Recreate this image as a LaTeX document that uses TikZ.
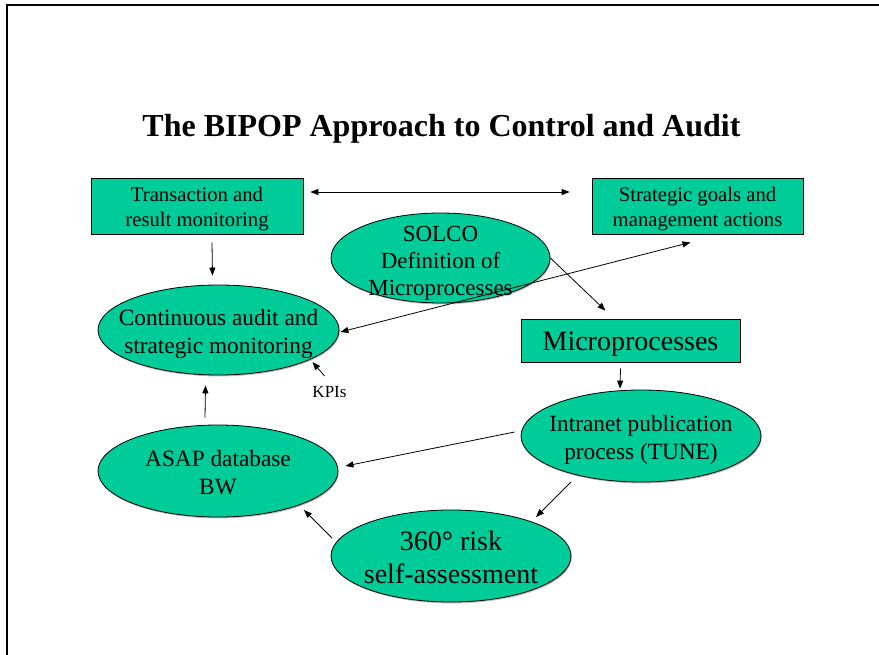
\documentclass[tikz,border=0pt]{standalone}
\usepackage{fontspec}
\setmainfont{Liberation Serif}
\usetikzlibrary{arrows.meta,shapes.geometric,calc,shadows}
\definecolor{bipopgreen}{RGB}{0,204,153}
\begin{document}
\begin{tikzpicture}[x=1pt,y=-1pt,
  softshadow/.style={drop shadow={shadow xshift=0.8pt,shadow yshift=-1.4pt,fill=black!45,opacity=0.55}},
  box/.style={rectangle,draw=black,line width=0.8pt,fill=bipopgreen,inner sep=0pt,softshadow},
  oval/.style={ellipse,draw=black,line width=0.8pt,fill=bipopgreen,inner sep=0pt,softshadow},
  ovaltext/.style={inner sep=0pt,align=center,font=\fontsize{23.3}{28}\selectfont},
  boxtext/.style={inner sep=0pt,align=center,font=\fontsize{20.7}{25}\selectfont},
  bigtext/.style={inner sep=0pt,font=\fontsize{28}{33}\selectfont},
  tip/.style={-{Triangle[length=8pt,width=6pt]},line width=0.8pt},
  twotips/.style={{Triangle[length=8pt,width=6pt]}-{Triangle[length=8pt,width=6pt]},line width=0.8pt}]

\useasboundingbox (0,0) rectangle (879,655);
\fill[white] (0,0) rectangle (879,655);
% slide frame
\draw[line width=2pt] (6.5,655) -- (6.5,5.5) -- (879,5.5);

% title
\node[anchor=base,inner sep=0pt,font=\fontsize{32}{38}\selectfont\bfseries] (title) at (441.5,137)
  {The BIPOP Approach to Control and Audit};

% boxes (frame first, text placed on its centre)
\node[box,minimum width=212,minimum height=56] (trans) at (197,206) {};
\node[boxtext] at ($(trans.center)+(0,3)$) {Transaction and\\result monitoring};
\node[box,minimum width=211,minimum height=56] (strat) at (697.5,206) {};
\node[boxtext] at ($(strat.center)+(0,3)$) {Strategic goals and\\management actions};
\node[box,minimum width=219,minimum height=43] (micro) at (630.5,340.5) {};
\node[bigtext] at ($(micro.center)+(0,4)$) {Microprocesses};

% ellipses
\node[oval,minimum width=219,minimum height=90] (solco) at (440.5,258) {};
\node[ovaltext,font=\fontsize{23}{27}\selectfont] at ($(solco.center)+(0,5)$)
  {SOLCO\\Definition of\\Microprocesses};

\node[oval,minimum width=241,minimum height=90] (cont) at (218.5,330) {};
\node[ovaltext] at ($(cont.center)+(0,4)$) {Continuous audit and\\strategic monitoring};

\node[oval,minimum width=240,minimum height=92] (intra) at (641,436) {};
\node[ovaltext] at ($(intra.center)+(0,4)$) {Intranet publication\\process (TUNE)};

\node[oval,minimum width=240,minimum height=92] (asap) at (218,471) {};
\node[ovaltext] at ($(asap.center)+(0,2)$) {ASAP database\\BW};

\node[oval,minimum width=240,minimum height=92] (risk) at (451,556) {};
\node[ovaltext,font=\fontsize{28}{33}\selectfont] at ($(risk.center)+(0,1)$) {360° risk\\self-assessment};

\node[inner sep=0pt,font=\fontsize{17}{20}\selectfont] (kpi) at (329.5,392) {KPIs};

% connectors
\draw[twotips] ($(trans.east)+(7,-14)$) -- ($(strat.west)+(-22,-14)$);
\draw[tip] ($(trans.south)+(15,8)$) -- ($(cont.north)+(-6,-9)$);
\draw[twotips] ($(cont.east)+(1,2)$) -- ($(strat.south)+(-7,8)$);
\draw[tip] (solco.east) -- ($(micro.north)+(-25,-8)$);
\draw[tip] ($(micro.south)+(-10,6)$) -- ($(intra.north)+(-21,-1)$);
\draw[tip] ($(intra.west)+(-6,-4)$) -- ($(asap.east)+(7,-5)$);
\draw[tip] ($(intra.center)+(-70,46)$) -- ($(risk.center)+(85,-39)$);
\draw[tip] ($(risk.center)+(-119,-18)$) -- ($(asap.center)+(86,39)$);
\draw[tip] ($(asap.north)+(-13,-7)$) -- ($(cont.south)+(-13,10)$);
\draw[tip] ($(kpi.center)+(-5,-16)$) -- ($(cont.center)+(94,32)$);
\end{tikzpicture}
\end{document}
